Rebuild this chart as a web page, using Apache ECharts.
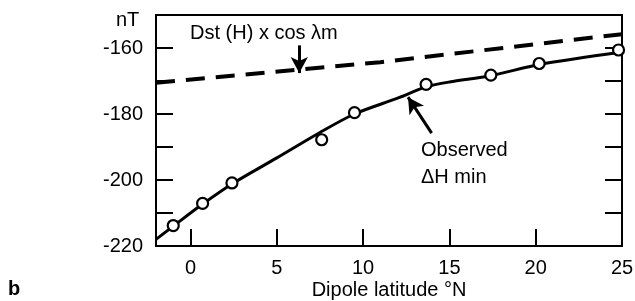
<!DOCTYPE html>
<html>
<head>
<meta charset="utf-8">
<script src="https://cdn.jsdelivr.net/npm/echarts@6/dist/echarts.min.js"></script>
<style>
  html, body { margin: 0; padding: 0; background: #fff; }
  #chart { width: 635px; height: 301px; }
</style>
</head>
<body>
<div id="chart"></div>
<script>
// 刻度
const xTicks = [0, 5, 10, 15, 20, 25];
const yLabels = [-220, -200, -180, -160];

// 观测点 (Dipole latitude, ΔH min)
const obsLat = [-1.0, 0.7, 2.4, 7.6, 9.5, 13.65, 17.4, 20.2, 24.8];
const obsH = [-213.8, -207.1, -200.9, -187.8, -179.6, -171.0, -168.2, -164.7, -160.6];

// 拟合曲线
const fitLat = [-2, -1, 0.7, 2.4, 5, 7.5, 9.5, 12, 13.65, 15, 17.4, 20.2, 25];
const fitH = [-218, -214, -207.3, -201.2, -193.3, -185.6, -180, -175.2, -171.8, -170.3, -168.4, -165, -161.2];

// Dst(H) x cos λm 虚线
const dstLat = [-2, 11, 25];
const dstH = [-170.5, -164.3, -155.8];

const font = 'Liberation Sans, Arial, Helvetica, sans-serif';
const zip = (a, b) => a.map((v, i) => [v, b[i]]);

const chart = echarts.init(document.getElementById('chart'));

const tickStyle = { color: '#000', width: 2 };

const option = {
    animation: false,
    backgroundColor: '#fff',
    grid: {
        left: 156, right: 13, top: 15, bottom: 55,
        containLabel: false, outerBoundsMode: 'none',
        show: true, borderColor: '#000', borderWidth: 2
    },
    xAxis: {
        type: 'value', min: -2, max: 25,
        name: 'Dipole latitude °N',
        nameLocation: 'middle', nameGap: 34, nameMoveOverlap: false,
        nameTextStyle: { color: '#000', fontSize: 20, fontFamily: font },
        axisLine: { onZero: false, lineStyle: { color: '#000', width: 2 } },
        axisTick: { inside: true, length: 17, lineStyle: tickStyle, customValues: [0, 5, 10, 15, 20] },
        axisLabel: { color: '#000', fontSize: 20, fontFamily: font, margin: 12, customValues: xTicks },
        splitLine: { show: false }
    },
    yAxis: [{
        type: 'value', min: -220, max: -150, interval: 10,
        axisLine: { show: true, onZero: false, lineStyle: { color: '#000', width: 2 } },
        axisTick: { show: true, inside: true, length: 17, lineStyle: tickStyle },
        axisLabel: {
            color: '#000', fontSize: 20, fontFamily: font, margin: 13,
            formatter: v => yLabels.indexOf(v) >= 0 ? String(v) : ''
        },
        splitLine: { show: false }
    }, {
        type: 'value', min: -220, max: -150, interval: 10, position: 'right',
        axisLine: { show: true, onZero: false, lineStyle: { color: '#000', width: 2 } },
        axisTick: { show: true, inside: true, length: 17, lineStyle: tickStyle },
        axisLabel: { show: false },
        splitLine: { show: false }
    }],
    series: [{
        type: 'line',
        data: zip(dstLat, dstH),
        showSymbol: false,
        lineStyle: { color: '#000', width: 4, type: [19, 11] },
        z: 2
    }, {
        type: 'line',
        data: zip(fitLat, fitH),
        smooth: 0.3,
        showSymbol: false,
        lineStyle: { color: '#000', width: 3 },
        z: 3,
        markLine: {
            silent: true,
            symbol: ['none', 'arrow'],
            symbolSize: [13, 16],
            label: { show: false },
            lineStyle: { color: '#000', width: 3, type: 'solid' },
            data: [
                [{ coord: [6.3, -159.2] }, { coord: [6.3, -167.6] }],
                [{ coord: [13.97, -185.8] }, { coord: [12.6, -174.9] }]
            ]
        }
    }, {
        type: 'scatter',
        data: zip(obsLat, obsH),
        symbol: 'circle',
        symbolSize: 11,
        itemStyle: { color: '#fff', opacity: 1, borderColor: '#000', borderWidth: 2.2 },
        z: 5
    }],
    graphic: [
        { type: 'text', left: 116, top: 10, style: { text: 'nT', font: '20px ' + font, fill: '#000' } },
        { type: 'text', left: 8, top: 279, style: { text: 'b', font: 'bold 20px ' + font, fill: '#000' } },
        { type: 'text', left: 190, top: 23, style: { text: 'Dst (H) x cos λm', font: '20px ' + font, fill: '#000' } },
        { type: 'text', left: 421, top: 140, style: { text: 'Observed', font: '20px ' + font, fill: '#000' } },
        { type: 'text', left: 421, top: 167, style: { text: 'ΔH min', font: '20px ' + font, fill: '#000' } }
    ]
};

chart.setOption(option);
</script>
</body>
</html>
